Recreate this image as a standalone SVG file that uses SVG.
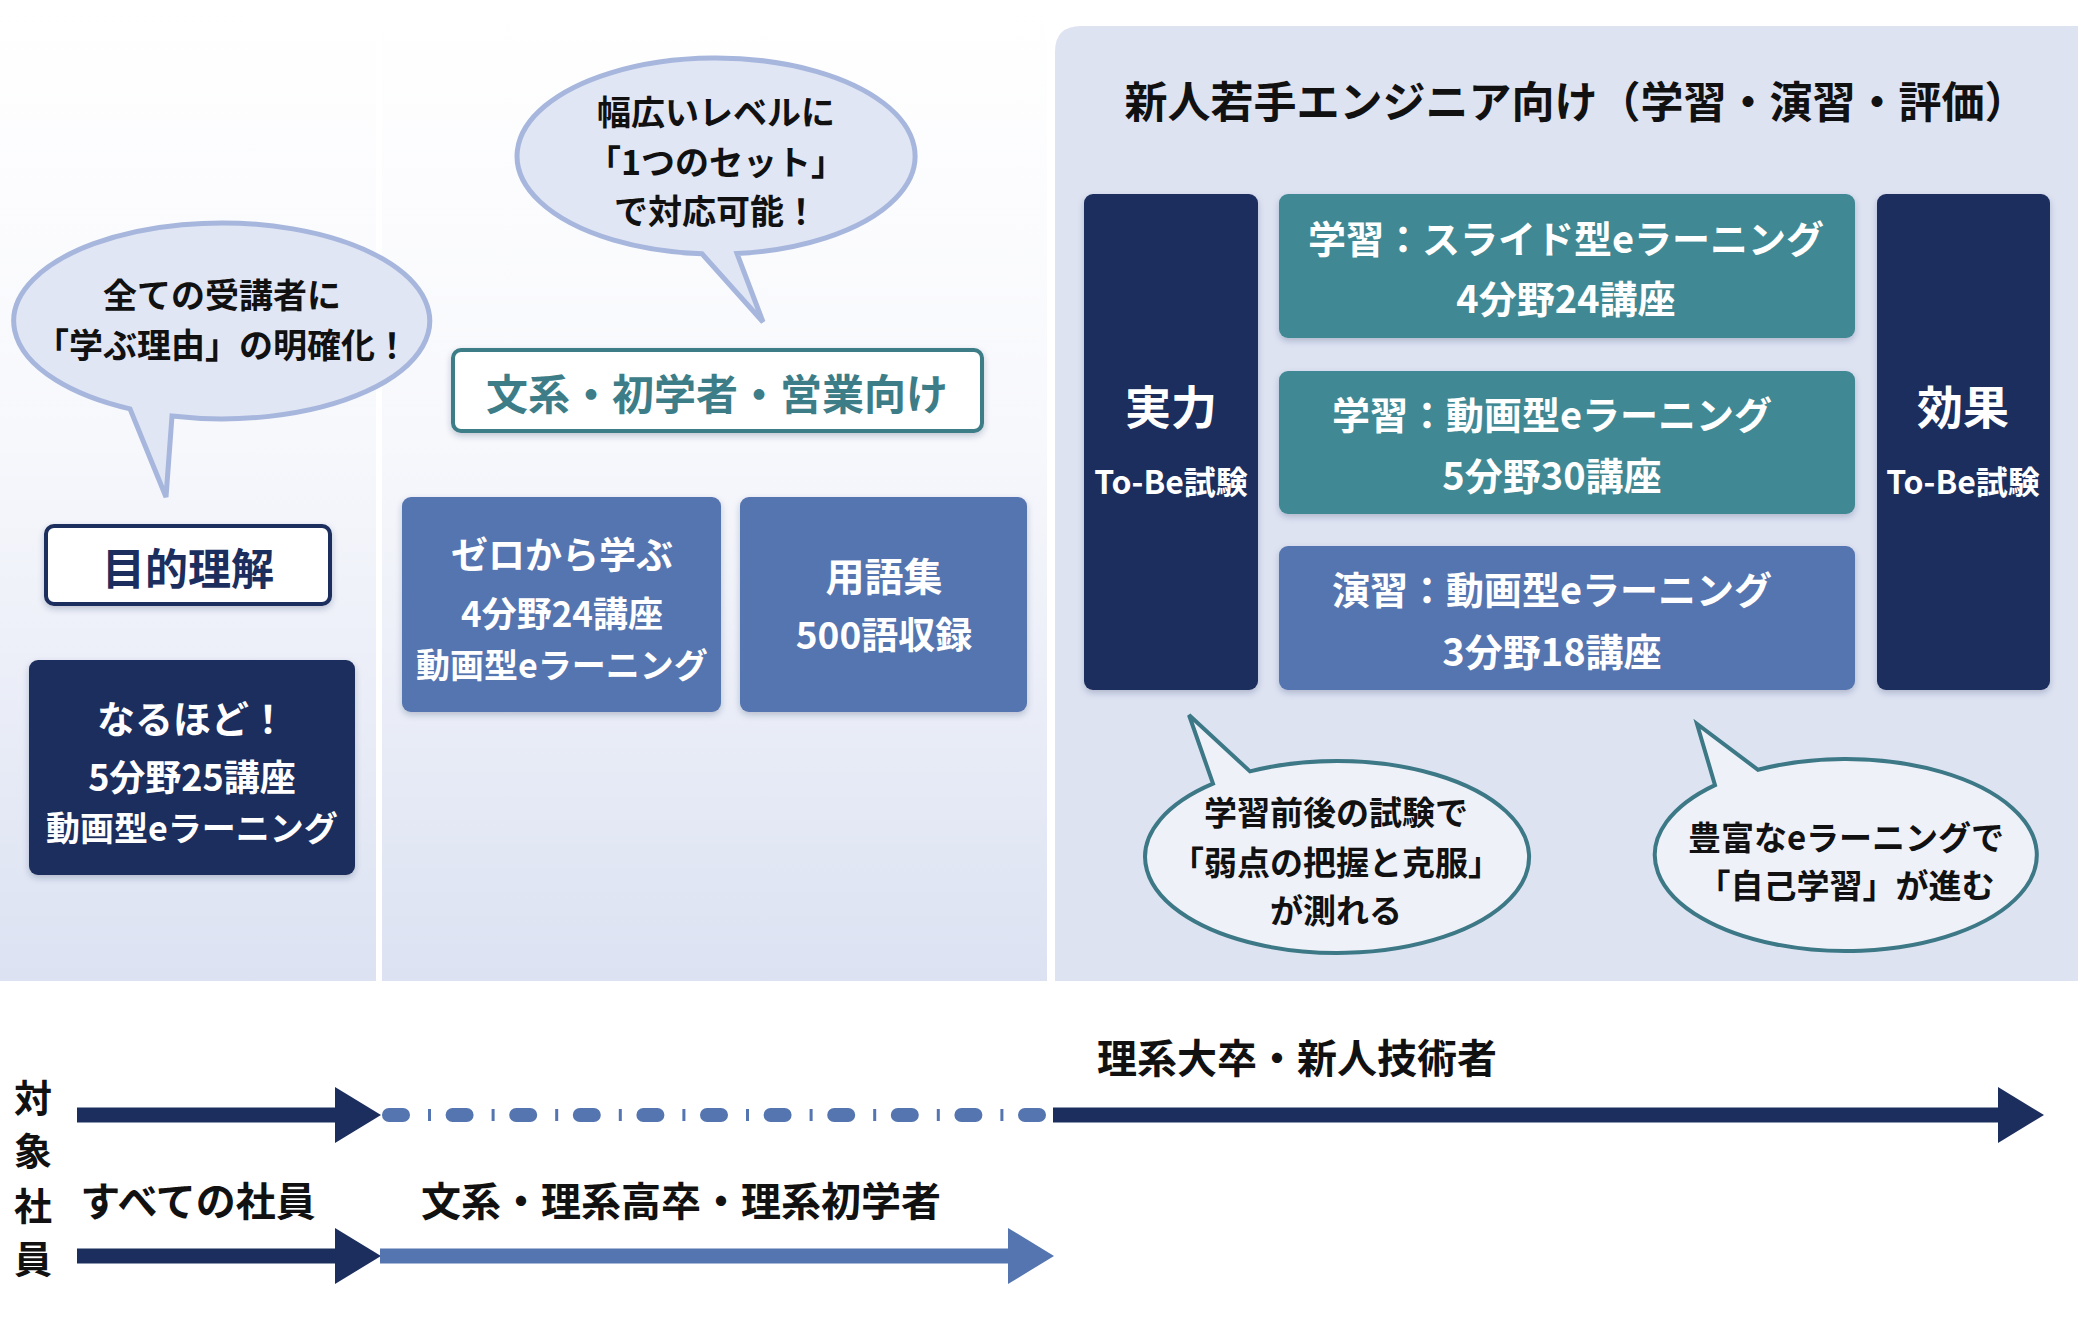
<svg xmlns="http://www.w3.org/2000/svg" width="2078" height="1332" viewBox="0 0 2078 1332">
<defs>
  <linearGradient id="panelGrad" x1="0" y1="0" x2="0" y2="1">
    <stop offset="0" stop-color="#ffffff"/>
    <stop offset="0.45" stop-color="#f7f8fc"/>
    <stop offset="1" stop-color="#dce2f2"/>
  </linearGradient>
  <filter id="shadow" x="-10%" y="-10%" width="120%" height="130%">
    <feDropShadow dx="0" dy="3" stdDeviation="3" flood-color="#1b2e5d" flood-opacity="0.25"/>
  </filter>
  <marker id="headNavy" markerWidth="46" markerHeight="56" refX="0" refY="28" markerUnits="userSpaceOnUse" orient="auto">
    <path d="M0,0 L46,28 L0,56 Z" fill="#1b2e5d"/>
  </marker>
  <marker id="headBlue" markerWidth="46" markerHeight="56" refX="0" refY="28" markerUnits="userSpaceOnUse" orient="auto">
    <path d="M0,0 L46,28 L0,56 Z" fill="#5475b0"/>
  </marker>
</defs>
<style>
  text { font-family: "Noto Sans CJK JP", "Noto Sans", sans-serif; font-weight: bold; dominant-baseline: central; text-anchor: middle; }
  .navy { fill: #1b2e5d; }
  .blue { fill: #5475b0; }
  .teal { fill: #3f8994; }
  .wt { fill: #ffffff; }
  .bk { fill: #111111; }
  .bubL { fill: #e1e6f5; stroke: #a7b6dc; stroke-width: 5; }
  .bubR { fill: #eff1f9; stroke: #3c7886; stroke-width: 4; }
</style>

<!-- backgrounds -->
<rect x="0" y="0" width="2078" height="1332" fill="#ffffff"/>
<rect x="0" y="0" width="376" height="981" fill="url(#panelGrad)"/>
<rect x="382" y="0" width="665" height="981" fill="url(#panelGrad)"/>
<path d="M1055,981 L1055,52 Q1055,26 1081,26 L2078,26 L2078,981 Z" fill="#dee3f2"/>

<!-- left panel -->
<g id="bubble-left">
  <path class="bubL" d="M172,416.1 A208,98 0 1,0 130,408.9 L166,497 Z"/>
  <text class="bk" x="222" y="293" font-size="34">全ての受講者に</text>
  <text class="bk" x="222" y="343" font-size="34">「学ぶ理由」の明確化！</text>
</g>
<g id="node-mokuteki">
  <rect x="46" y="526" width="284" height="78" rx="8" fill="#ffffff" stroke="#1b2e5d" stroke-width="4" filter="url(#shadow)"/>
  <text class="navy" x="188" y="566" font-size="43">目的理解</text>
</g>
<g id="node-naruhodo">
  <rect x="29" y="660" width="326" height="215" rx="9" class="navy" filter="url(#shadow)"/>
  <text class="wt" x="192" y="716" font-size="38">なるほど！</text>
  <text class="wt" x="192" y="775" font-size="36">5分野25講座</text>
  <text class="wt" x="192" y="826" font-size="34">動画型eラーニング</text>
</g>

<!-- middle panel -->
<g id="bubble-middle">
  <path class="bubL" d="M737,253.5 A199,98 0 1,0 702,253.8 L763,322 Z"/>
  <text class="bk" x="716" y="110" font-size="34">幅広いレベルに</text>
  <text class="bk" x="716" y="160" font-size="34">「1つのセット」</text>
  <text class="bk" x="716" y="209" font-size="34">で対応可能！</text>
</g>
<g id="node-bunkei">
  <rect x="453" y="350" width="529" height="81" rx="8" fill="#ffffff" stroke="#3d7d87" stroke-width="4" filter="url(#shadow)"/>
  <text x="717" y="391" font-size="42" fill="#3d7d87">文系・初学者・営業向け</text>
</g>
<g id="node-zero">
  <rect x="402" y="497" width="319" height="215" rx="9" class="blue" filter="url(#shadow)"/>
  <text class="wt" x="562" y="553" font-size="37">ゼロから学ぶ</text>
  <text class="wt" x="562" y="611" font-size="35">4分野24講座</text>
  <text class="wt" x="562" y="663" font-size="34">動画型eラーニング</text>
</g>
<g id="node-yougo">
  <rect x="740" y="497" width="287" height="215" rx="9" class="blue" filter="url(#shadow)"/>
  <text class="wt" x="884" y="574" font-size="39">用語集</text>
  <text class="wt" x="884" y="633" font-size="37">500語収録</text>
</g>

<!-- right panel -->
<g id="title-right">
  <text x="1576" y="99" font-size="43" fill="#111111">新人若手エンジニア向け（学習・演習・評価）</text>
</g>
<g id="node-jitsuryoku">
  <rect x="1084" y="194" width="174" height="496" rx="9" class="navy" filter="url(#shadow)"/>
  <text class="wt" x="1171" y="404" font-size="46">実力</text>
  <text class="wt" x="1171" y="480" font-size="32">To-Be試験</text>
</g>
<g id="node-kouka">
  <rect x="1877" y="194" width="173" height="496" rx="9" class="navy" filter="url(#shadow)"/>
  <text class="wt" x="1963" y="404" font-size="46">効果</text>
  <text class="wt" x="1963" y="480" font-size="32">To-Be試験</text>
</g>
<g id="node-slide">
  <rect x="1279" y="194" width="576" height="144" rx="9" class="teal" filter="url(#shadow)"/>
  <text class="wt" x="1566" y="236" font-size="38">学習：スライド型eラーニング</text>
  <text class="wt" x="1566" y="296" font-size="38">4分野24講座</text>
</g>
<g id="node-douga">
  <rect x="1279" y="371" width="576" height="143" rx="9" class="teal" filter="url(#shadow)"/>
  <text class="wt" x="1552" y="412" font-size="38">学習：動画型eラーニング</text>
  <text class="wt" x="1552" y="473" font-size="38">5分野30講座</text>
</g>
<g id="node-enshu">
  <rect x="1279" y="546" width="576" height="144" rx="9" class="blue" filter="url(#shadow)"/>
  <text class="wt" x="1552" y="587" font-size="38">演習：動画型eラーニング</text>
  <text class="wt" x="1552" y="649" font-size="38">3分野18講座</text>
</g>
<g id="bubble-exam">
  <path class="bubR" d="M1213,783.7 A192,96 0 1,0 1250,771.4 L1189,715 Z"/>
  <text class="bk" x="1336" y="811" font-size="33">学習前後の試験で</text>
  <text class="bk" x="1336" y="861" font-size="33">「弱点の把握と克服」</text>
  <text class="bk" x="1336" y="909" font-size="33">が測れる</text>
</g>
<g id="bubble-self">
  <path class="bubR" d="M1715,785.1 A191,96 0 1,0 1758,769.8 L1697,724 Z"/>
  <text class="bk" x="1846" y="836" font-size="33">豊富なeラーニングで</text>
  <text class="bk" x="1846" y="884" font-size="33">「自己学習」が進む</text>
</g>

<!-- bottom labels -->
<g id="label-target">
  <text class="bk" x="33" y="1095" font-size="38">対</text>
  <text class="bk" x="33" y="1148" font-size="38">象</text>
  <text class="bk" x="33" y="1203" font-size="38">社</text>
  <text class="bk" x="33" y="1256" font-size="38">員</text>
</g>
<g id="label-rikei-daisotsu">
  <text class="bk" x="1297" y="1056" font-size="40">理系大卒・新人技術者</text>
</g>
<g id="label-all">
  <text class="bk" x="198" y="1199" font-size="40">すべての社員</text>
</g>
<g id="label-bunkei">
  <text class="bk" x="681" y="1199" font-size="40">文系・理系高卒・理系初学者</text>
</g>

<!-- connectors -->
<g id="connectors">
  <line x1="77" y1="1115" x2="335" y2="1115" stroke="#1b2e5d" stroke-width="15" marker-end="url(#headNavy)"/>
  <line x1="389" y1="1115" x2="1050" y2="1115" stroke="#5475b0" stroke-width="14" stroke-linecap="round" stroke-dasharray="14 49.6"/>
  <line x1="428" y1="1115" x2="1050" y2="1115" stroke="#5475b0" stroke-width="12" stroke-dasharray="3 60.6"/>
  <line x1="1053" y1="1115" x2="1998" y2="1115" stroke="#1b2e5d" stroke-width="15" marker-end="url(#headNavy)"/>
  <line x1="77" y1="1256" x2="335" y2="1256" stroke="#1b2e5d" stroke-width="15" marker-end="url(#headNavy)"/>
  <line x1="380" y1="1256" x2="1008" y2="1256" stroke="#5475b0" stroke-width="15" marker-end="url(#headBlue)"/>
</g>
</svg>
